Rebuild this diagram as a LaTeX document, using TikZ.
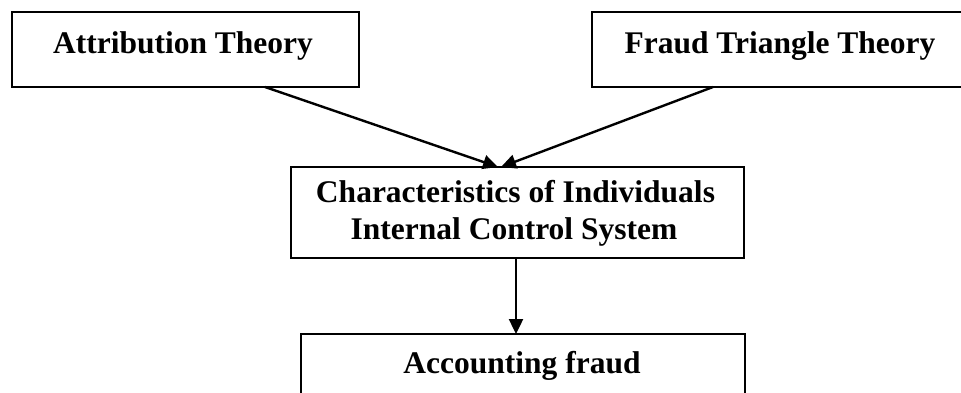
\documentclass[tikz,border=0pt]{standalone}
\usepackage{fontspec}
\setmainfont{Liberation Serif}
\usetikzlibrary{arrows.meta}
\begin{document}
\begin{tikzpicture}[x=1pt,y=-1pt,
  boxnode/.style={draw=black,line width=2pt,rectangle,inner sep=0pt},
  lbl/.style={inner sep=0pt,anchor=base,font=\fontsize{31.5}{37}\selectfont\bfseries},
  conn/.style={line width=2.4pt,-{Triangle[length=15pt,width=14pt]}}]
\useasboundingbox (0,0) rectangle (961,392);
% boxes
\node[boxnode,minimum width=347pt,minimum height=75pt] (A) at (185.5,49.5) {};
\node[boxnode,minimum width=390pt,minimum height=75pt] (B) at (787,49.5) {};
\node[boxnode,minimum width=453pt,minimum height=91pt] (C) at (517.5,212.5) {};
\node[boxnode,minimum width=444pt,minimum height=70pt] (D) at (523,369) {};
% labels
\node[lbl] (tA) at (183,53) {Attribution Theory};
\node[lbl] (tB) at (780,53) {Fraud Triangle Theory};
\node[lbl] (tC1) at (515.5,202) {Characteristics of Individuals};
\node[lbl] (tC2) at (514,239) {Internal Control System};
\node[lbl] (tD) at (522,373) {Accounting fraud};
% connector points
\coordinate (a1) at (265,87);
\coordinate (b1) at (713,87);
\coordinate (c1) at (498,167);
\coordinate (c2) at (501,167);
\coordinate (c3) at (516,258);
\coordinate (d1) at (516,334);
\draw[conn] (a1) -- (c1);
\draw[conn] (b1) -- (c2);
\draw[conn] (c3) -- (d1);
\end{tikzpicture}
\end{document}
